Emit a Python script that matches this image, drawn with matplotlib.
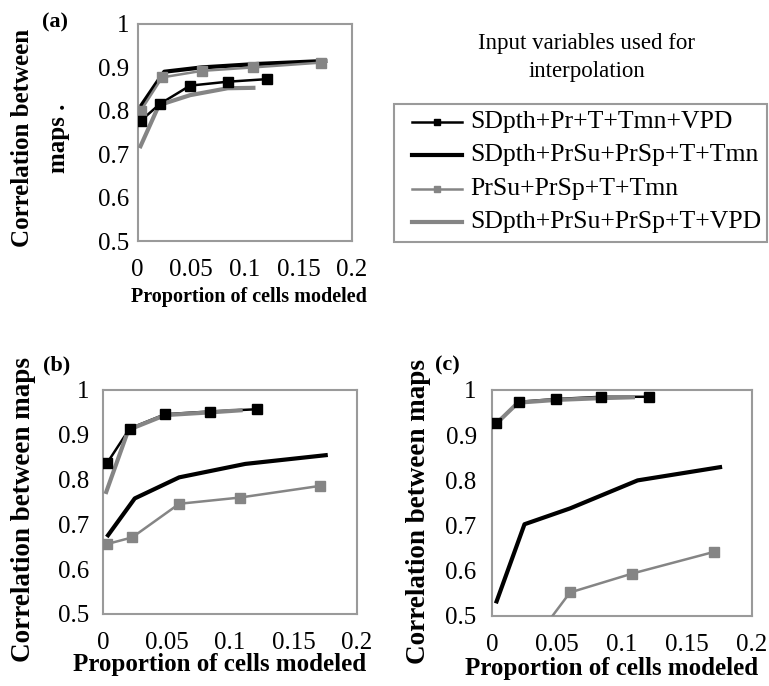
import matplotlib
matplotlib.use("Agg")
import matplotlib.pyplot as plt
from matplotlib.lines import Line2D
from matplotlib.patches import Rectangle

plt.rcParams['font.family'] = ['Liberation Serif', 'DejaVu Serif']

W, H = 769, 686
DPI = 100

# ---- data ----
labels = ["SDpth+Pr+T+Tmn+VPD",
          "SDpth+PrSu+PrSp+T+Tmn",
          "PrSu+PrSp+T+Tmn",
          "SDpth+PrSu+PrSp+T+VPD"]

x1 = [0.003, 0.021, 0.049, 0.084, 0.121]   # SDpth+Pr+T+Tmn+VPD
x2 = [0.003, 0.025, 0.060, 0.112, 0.177]   # SDpth+PrSu+PrSp+T+Tmn
x3 = [0.003, 0.023, 0.060, 0.108, 0.171]   # PrSu+PrSp+T+Tmn
x4 = [0.002, 0.020, 0.049, 0.084, 0.110]   # SDpth+PrSu+PrSp+T+VPD

a_y1 = [0.777, 0.816, 0.858, 0.867, 0.873]
a_y2 = [0.810, 0.890, 0.900, 0.908, 0.915]
a_y3 = [0.800, 0.877, 0.892, 0.900, 0.911]
a_y4 = [0.714, 0.813, 0.836, 0.852, 0.853]

b_y1 = [0.836, 0.914, 0.946, 0.952, 0.957]
b_y2 = [0.672, 0.758, 0.805, 0.835, 0.855]
b_y3 = [0.656, 0.671, 0.746, 0.760, 0.786]
b_y4 = [0.768, 0.911, 0.944, 0.950, 0.955]

c_y1 = [0.926, 0.974, 0.980, 0.985, 0.985]
c_y2 = [0.528, 0.703, 0.738, 0.800, 0.830]
c_y3 = [0.380, 0.410, 0.552, 0.594, 0.642]
c_y4 = [0.922, 0.972, 0.978, 0.982, 0.984]

xticks = [0, 0.05, 0.1, 0.15, 0.2]
xticklabels = ["0", "0.05", "0.1", "0.15", "0.2"]
yticks = [0.5, 0.6, 0.7, 0.8, 0.9, 1.0]
yticklabels = ["0.5", "0.6", "0.7", "0.8", "0.9", "1"]

BLACK = "#000000"
GRAY = "#858585"
FRAME = "#9a9a9a"

# series styles: (color, linewidth, marker)
styles = [(BLACK, 1.8, 's'), (BLACK, 3.0, None), (GRAY, 1.8, 's'), (GRAY, 3.0, None)]

fig = plt.figure(figsize=(W / DPI, H / DPI), dpi=DPI)


def fx(x):
    return x / W


def fy(y):
    return 1 - y / H


def add_ax(left, right, top, bottom):
    return fig.add_axes([fx(left), fy(bottom), (right - left) / W, (bottom - top) / H])


def ftext(x, y, s, **kw):
    fig.text(fx(x), fy(y), s, **kw)


def panel(ax, y1, y2, y3, y4, ticksize, ypad):
    ax.plot(x2, y2, color=BLACK, lw=3.0, solid_capstyle='butt', zorder=2)
    ax.plot(x1, y1, color=BLACK, lw=1.8, zorder=2)
    ax.plot(x4, y4, color=GRAY, lw=3.0, solid_capstyle='butt', zorder=3)
    ax.plot(x3, y3, color=GRAY, lw=1.8, marker='s', ms=6.5, mec=GRAY, mfc=GRAY, zorder=3)
    ax.plot(x1, y1, color=BLACK, lw=0, marker='s', ms=6.5, mec=BLACK, mfc=BLACK, zorder=4)
    ax.set_xlim(0, 0.2)
    ax.set_ylim(0.5, 1.0)
    ax.set_xticks(xticks)
    ax.set_xticklabels(xticklabels)
    ax.set_yticks(yticks)
    ax.set_yticklabels(yticklabels)
    ax.tick_params(length=0, labelsize=ticksize)
    ax.tick_params(axis='x', pad=13)
    ax.tick_params(axis='y', pad=ypad)
    for sp in ax.spines.values():
        sp.set_color(FRAME)
        sp.set_linewidth(1.5)


axa = add_ax(137.5, 352, 24, 241)
axb = add_ax(103, 357, 390, 614)
axc = add_ax(492, 752, 390, 616)

panel(axa, a_y1, a_y2, a_y3, a_y4, 18, 6)
panel(axb, b_y1, b_y2, b_y3, b_y4, 18, 10)
panel(axc, c_y1, c_y2, c_y3, c_y4, 18, 11)

# axis labels
ftext(23, 138, "Correlation between", rotation=90, ha='center', va='center',
      fontsize=18, fontweight='bold')
ftext(58, 138, "maps .", rotation=90, ha='center', va='center',
      fontsize=18, fontweight='bold')
ftext(249, 297, "Proportion of cells modeled", ha='center', va='center',
      fontsize=14.5, fontweight='bold')

ftext(24, 510, "Correlation between maps", rotation=90, ha='center', va='center',
      fontsize=19.5, fontweight='bold')
ftext(220, 665, "Proportion of cells modeled", ha='center', va='center',
      fontsize=18, fontweight='bold')

ftext(419, 512, "Correlation between maps", rotation=90, ha='center', va='center',
      fontsize=19.5, fontweight='bold')
ftext(612, 668, "Proportion of cells modeled", ha='center', va='center',
      fontsize=18, fontweight='bold')

# panel labels
ftext(55, 22, "(a)", ha='center', va='center', fontsize=16, fontweight='bold')
ftext(57, 365, "(b)", ha='center', va='center', fontsize=16, fontweight='bold')
ftext(447, 365, "(c)", ha='center', va='center', fontsize=16, fontweight='bold')

# legend (drawn as a figure-level key)
ftext(587, 43, "Input variables used for", ha='center', va='center', fontsize=16.5)
ftext(587, 72, "interpolation", ha='center', va='center', fontsize=16.5)

box_l, box_r, box_t, box_b = 394, 767, 104, 242
fig.patches.append(Rectangle((fx(box_l), fy(box_b)), (box_r - box_l) / W, (box_b - box_t) / H,
                             transform=fig.transFigure, facecolor='white',
                             edgecolor=FRAME, linewidth=1.5, zorder=1))
row_y = [122, 155, 189, 222]
for (col, lw, mk), lab, ry in zip(styles, labels, row_y):
    fig.add_artist(Line2D([fx(412), fx(462)], [fy(ry), fy(ry)], transform=fig.transFigure,
                          color=col, lw=lw, zorder=2))
    if mk:
        fig.add_artist(Line2D([fx(437)], [fy(ry)], transform=fig.transFigure,
                              color=col, lw=0, marker=mk, ms=5, mec=col, mfc=col, zorder=3))
    ftext(470, ry, lab, ha='left', va='center', fontsize=18.5, zorder=3)

fig.savefig("out.png", dpi=DPI)
